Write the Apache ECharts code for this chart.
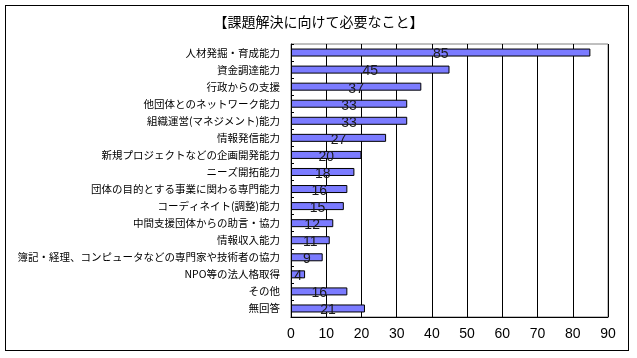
<!DOCTYPE html>
<html><head><meta charset="utf-8">
<script src="https://cdn.jsdelivr.net/npm/echarts@6/dist/echarts.min.js"></script>
<style>html,body{margin:0;padding:0;background:#fff;}#frame{position:absolute;left:5px;top:5px;width:622px;height:344px;border:1px solid #000;}#c{width:637px;height:358px;}</style>
</head><body><div id="frame"></div><div id="c"></div>
<script>
const title = '【課題解決に向けて必要なこと】';
const categories = ['人材発掘・育成能力','資金調達能力','行政からの支援','他団体とのネットワーク能力','組織運営(マネジメント)能力','情報発信能力','新規プロジェクトなどの企画開発能力','ニーズ開拓能力','団体の目的とする事業に関わる専門能力','コーディネイト(調整)能力','中間支援団体からの助言・協力','情報収入能力','簿記・経理、コンピュータなどの専門家や技術者の協力','NPO等の法人格取得','その他','無回答'];
const values = [85,45,37,33,33,27,20,18,16,15,12,11,9,4,16,21];
const xTicks = {min:0,max:90,interval:10};

const chart = echarts.init(document.getElementById('c'));
chart.setOption({
  animation:false,
  title:{text:title,left:'center',top:10,textStyle:{fontFamily:'Noto Sans CJK JP',fontSize:14,fontWeight:'normal',color:'#000'}},
  grid:{left:291,right:29,top:44,bottom:41,show:true,borderColor:'#808080',borderWidth:1},
  xAxis:{type:'value',min:xTicks.min,max:xTicks.max,interval:xTicks.interval,
    axisLine:{show:true,lineStyle:{color:'#000'}},axisTick:{show:false},
    axisLabel:{color:'#000',fontSize:14,fontFamily:'Liberation Sans',margin:10},
    splitLine:{show:true,lineStyle:{color:'#000',width:1}}},
  yAxis:{type:'category',data:categories,inverse:true,
    axisLine:{show:true,lineStyle:{color:'#000'}},
    axisTick:{show:true,inside:true,length:3,lineStyle:{color:'#000'}},
    axisLabel:{color:'#000',fontSize:10.5,fontFamily:'Noto Sans CJK JP',margin:11}},
  series:[{type:'bar',data:values,barWidth:8,
    itemStyle:{color:'#7B7BFF',borderColor:'#000',borderWidth:1},
    label:{show:true,position:'inside',color:'#1a1a1a',fontSize:14,fontFamily:'Liberation Sans',offset:[0,2]}}]
});
</script></body></html>
